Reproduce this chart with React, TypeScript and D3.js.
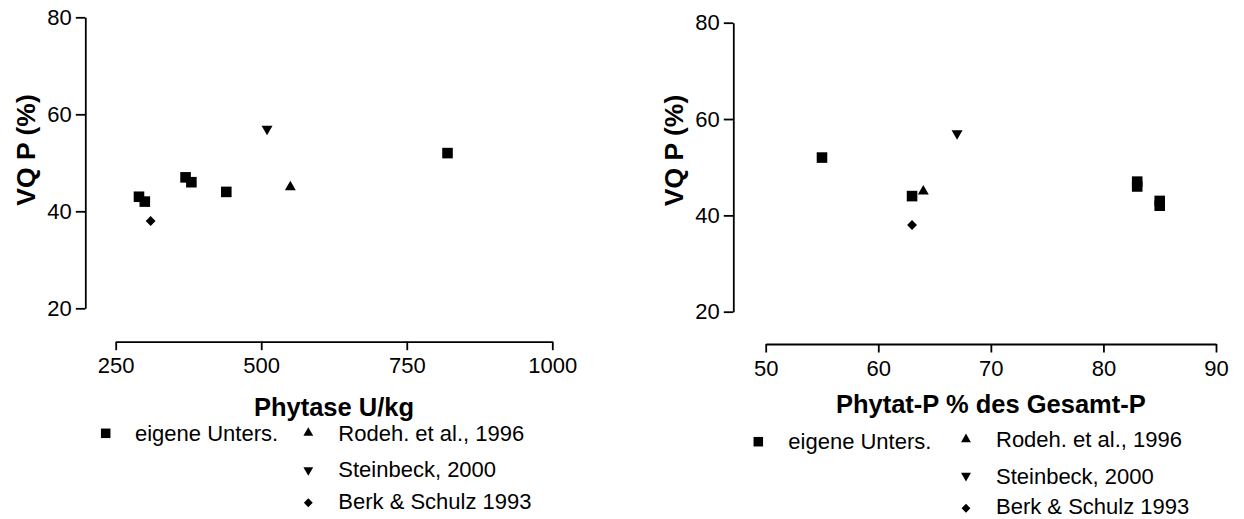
import { useRef, useEffect } from "react";
import * as d3 from "d3";

// own study: phytase U/kg, phytate-P % of total P, VQ P %
const ownPhytase = [290, 300, 370, 380, 440, 820];
const ownPhytatP = [85, 85, 83, 83, 63, 55];
const ownVQ = [43, 42, 47, 46, 44, 52];

// literature values (one point each)
const rodehPoint = { phytase: 550, phytatP: 64, vq: 45 };
const steinbeckPoint = { phytase: 510, phytatP: 67, vq: 57 };
const berkPoint = { phytase: 310, phytatP: 63, vq: 38 };

const yTicks = [20, 40, 60, 80];
const phytaseTicks = [250, 500, 750, 1000];
const phytatTicks = [50, 60, 70, 80, 90];

const legendLabels = [
  "eigene Unters.",
  "Rodeh. et al., 1996",
  "Steinbeck, 2000",
  "Berk & Schulz 1993",
];

const FONT = "'Liberation Sans', Arial, Helvetica, sans-serif";

const shapes = {
  square: d3.symbol().type(d3.symbolSquare).size(112),
  up: d3.symbol().type(d3.symbolTriangle).size(52),
  down: d3.symbol().type(d3.symbolTriangle).size(52),
  diamond: d3.symbol().type(d3.symbolDiamond2).size(62),
};

function drawMarker(g, kind, x, y, scale = 1) {
  const rot = kind === "down" ? " rotate(180)" : "";
  g.append("path")
    .attr("d", shapes[kind]())
    .attr("transform", `translate(${x},${y})${rot} scale(${scale})`)
    .attr("fill", "#000");
}

export default function App() {
  const ref = useRef(null);

  useEffect(() => {
    const svg = d3.select(ref.current);
    svg.selectAll("*").remove();

    const panels = [
      {
        key: "phytase",
        xDomain: [250, 1000],
        xRange: [115.7, 552.3],
        xTicks: phytaseTicks,
        yRange: [308.3, 17.3],
        yAxisX: 85.3,
        xAxisY: 341.7,
        xTitle: "Phytase U/kg",
        xTitleY: 416,
        yTitleX: 35,
        yTitleY: 150,
        legend: {
          sq: [105.7, 433.3],
          sqText: [135, 440.7],
          markX: 308.3,
          textX: 338.3,
          rows: [
            [433, 440.7],
            [470, 476.7],
            [502.7, 509],
          ],
        },
      },
      {
        key: "phytatP",
        xDomain: [50, 90],
        xRange: [765.7, 1216],
        xTicks: phytatTicks,
        yRange: [311.7, 22.7],
        yAxisX: 733.3,
        xAxisY: 344,
        xTitle: "Phytat-P % des Gesamt-P",
        xTitleY: 413.3,
        yTitleX: 683,
        yTitleY: 150.5,
        legend: {
          sq: [758.3, 441.7],
          sqText: [788.3, 448.5],
          markX: 966,
          textX: 996,
          rows: [
            [439.3, 446.7],
            [475.7, 484],
            [508.3, 514.3],
          ],
        },
      },
    ];

    panels.forEach((p) => {
      const x = d3.scaleLinear().domain(p.xDomain).range(p.xRange);
      const y = d3.scaleLinear().domain([20, 80]).range(p.yRange);
      const g = svg.append("g");

      // --- Y axis ---
      const yAxisG = g
        .append("g")
        .attr("transform", `translate(${p.yAxisX},0)`)
        .call(
          d3.axisLeft(y).tickValues(yTicks).tickFormat(d3.format("d"))
            .tickSize(9.5).tickSizeOuter(0).tickPadding(4)
        );

      // --- X axis ---
      const xAxisG = g
        .append("g")
        .attr("transform", `translate(0,${p.xAxisY})`)
        .call(
          d3.axisBottom(x).tickValues(p.xTicks).tickFormat(d3.format("d"))
            .tickSize(8.5).tickSizeOuter(0).tickPadding(6)
        );

      [yAxisG, xAxisG].forEach((a) => {
        a.selectAll("path, line").attr("stroke", "#000").attr("stroke-width", 1.8);
        a.selectAll("text")
          .attr("fill", "#000")
          .style("font-family", FONT)
          .style("font-size", "22px");
      });
      xAxisG.selectAll("text").attr("dy", "0.71em").attr("y", 16);

      // --- Titles ---
      g.append("text")
        .attr("x", (p.xRange[0] + p.xRange[1]) / 2)
        .attr("y", p.xTitleY)
        .attr("text-anchor", "middle")
        .style("font-family", FONT)
        .style("font-size", "25.5px")
        .style("font-weight", "bold")
        .text(p.xTitle);

      g.append("text")
        .attr("transform", `translate(${p.yTitleX},${p.yTitleY}) rotate(-90)`)
        .attr("text-anchor", "middle")
        .style("font-family", FONT)
        .style("font-size", "26.5px")
        .style("font-weight", "bold")
        .text("VQ P (%)");

      // --- Data points ---
      const own = ownVQ.map((v, i) => ({ x: p.key === "phytase" ? ownPhytase[i] : ownPhytatP[i], y: v }));
      own.forEach((d) => drawMarker(g, "square", x(d.x), y(d.y)));
      drawMarker(g, "up", x(rodehPoint[p.key]), y(rodehPoint.vq));
      drawMarker(g, "down", x(steinbeckPoint[p.key]), y(steinbeckPoint.vq));
      drawMarker(g, "diamond", x(berkPoint[p.key]), y(berkPoint.vq));

      // --- Legend ---
      const lg = g.append("g");
      const L = p.legend;
      drawMarker(lg, "square", L.sq[0], L.sq[1], 0.9);
      lg.append("text")
        .attr("x", L.sqText[0])
        .attr("y", L.sqText[1])
        .style("font-family", FONT)
        .style("font-size", "22px")
        .text(legendLabels[0]);
      ["up", "down", "diamond"].forEach((kind, i) => {
        drawMarker(lg, kind, L.markX, L.rows[i][0], 0.9);
        lg.append("text")
          .attr("x", L.textX)
          .attr("y", L.rows[i][1])
          .style("font-family", FONT)
          .style("font-size", "22px")
          .text(legendLabels[i + 1]);
      });
    });
  }, []);

  return (
    <svg
      ref={ref}
      width={1244}
      height={519}
      style={{ position: "absolute", left: 0, top: 0, background: "#fff" }}
    ></svg>
  );
}
